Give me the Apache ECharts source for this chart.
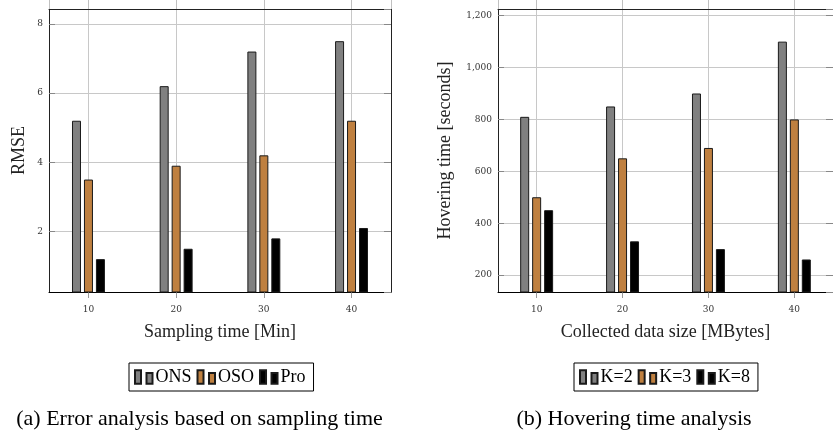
<!DOCTYPE html>
<html><head><meta charset="utf-8">
<script src="https://cdn.jsdelivr.net/npm/echarts@6/dist/echarts.min.js"></script>
<style>html,body{margin:0;padding:0;background:#fff}#c{width:833px;height:437px}</style>
</head><body><div id="c"></div>
<script>
// ---- data ----
const xTicks = [10, 20, 30, 40];
const leftNames = ['ONS', 'OSO', 'Pro'];
const ons = [5.2, 6.2, 7.2, 7.5];
const oso = [3.5, 3.9, 4.2, 5.2];
const pro = [1.2, 1.5, 1.8, 2.1];
const rightNames = ['K=2', 'K=3', 'K=8'];
const k2 = [810, 850, 900, 1100];
const k3 = [500, 650, 690, 800];
const k8 = [450, 330, 300, 260];
const leftXLabel = 'Sampling time [Min]';
const leftYLabel = 'RMSE';
const rightXLabel = 'Collected data size [MBytes]';
const rightYLabel = 'Hovering time [seconds]';
const captionA = '(a) Error analysis based on sampling time';
const captionB = '(b) Hovering time analysis';

// ---- styles ----
const colors = ['#808080', '#bf8040', '#000000'];
const serif = 'Liberation Serif';
const tickFont = { fontFamily: 'DejaVu Serif', fontSize: 9, color: '#333' };
const gridLine = { show: true, lineStyle: { color: '#c8c8c8', width: 1 } };
const iconPath = 'path://M0,0H6V13.5H0ZM11.5,2.7H17.5V13.5H11.5Z';

function bottomX(gi, name) {
  return {
    type: 'value', gridIndex: gi, position: 'bottom', min: 5.5, max: 44.5, splitNumber: 4,
    axisLine: { show: true, lineStyle: { color: '#000', width: 1 } },
    axisTick: { show: true, inside: false, length: 6, lineStyle: { color: '#999' } },
    axisLabel: Object.assign({ margin: 13, showMinLabel: false, showMaxLabel: false }, tickFont),
    splitLine: gridLine,
    name: name, nameLocation: 'middle', nameGap: 31,
    nameTextStyle: { fontFamily: serif, fontSize: 18, color: '#222' }
  };
}
function topX(gi) {
  return {
    type: 'value', gridIndex: gi, position: 'top', min: 5.5, max: 44.5, splitNumber: 4,
    axisLine: { show: true, lineStyle: { color: '#222', width: 1 } },
    axisTick: { show: true, inside: false, length: 9, lineStyle: { color: '#c0c0c0' } },
    axisLabel: { show: false }, splitLine: { show: false }
  };
}
function leftY(gi, min, max, split, name, gap, fmt) {
  return {
    type: 'value', gridIndex: gi, position: 'left', min: min, max: max, splitNumber: split,
    axisLine: { show: true, lineStyle: { color: '#222', width: 1 } },
    axisTick: { show: true, inside: true, length: 6, lineStyle: { color: '#888' } },
    axisLabel: Object.assign({ margin: 6, showMinLabel: false, showMaxLabel: false, formatter: fmt }, tickFont),
    splitLine: gridLine,
    name: name, nameLocation: 'middle', nameGap: gap,
    nameTextStyle: { fontFamily: serif, fontSize: 18, color: '#222' }
  };
}
function rightY(gi, min, max, split) {
  return {
    type: 'value', gridIndex: gi, position: 'right', min: min, max: max, splitNumber: split,
    axisLine: { show: true, lineStyle: { color: '#222', width: 1 } },
    axisTick: { show: true, inside: true, length: 7, lineStyle: { color: '#888' } },
    axisLabel: { show: false }, splitLine: { show: false }
  };
}
function bars(name, vals, ci, xi, yi) {
  return {
    type: 'bar', name: name, xAxisIndex: xi, yAxisIndex: yi,
    data: xTicks.map((x, i) => [x, vals[i]]),
    barWidth: 9, barGap: '33%',
    itemStyle: { color: colors[ci], borderColor: '#1a1a1a', borderWidth: 1 },
    emphasis: { disabled: true }
  };
}
function legend(names, left) {
  return {
    data: names, left: left, top: 363, orient: 'horizontal',
    icon: iconPath, itemWidth: 17.5, itemHeight: 13.5, itemGap: 5,
    borderColor: '#000', borderWidth: 1, padding: [5, 8, 5, 5],
    textStyle: { fontFamily: serif, fontSize: 18, color: '#000', padding: [0, 0, 0, -2] },
    selectedMode: false
  };
}

const chart = echarts.init(document.getElementById('c'), null, { renderer: 'canvas' });
chart.setOption({
  animation: false,
  backgroundColor: '#fff',
  grid: [
    { left: 49, top: 9, width: 342, height: 283, show: false },
    { left: 498, top: 9, width: 341, height: 283, show: false }
  ],
  xAxis: [bottomX(0, leftXLabel), topX(0), bottomX(1, rightXLabel), topX(1)],
  yAxis: [
    leftY(0, 0.25, 8.43, 4, leftYLabel, 21, v => String(v)),
    rightY(0, 0.25, 8.43, 4),
    leftY(1, 134.6, 1225.8, 5, rightYLabel, 44, v => v.toLocaleString('en-US')),
    rightY(1, 134.6, 1225.8, 5)
  ],
  legend: [legend(leftNames, 129), legend(rightNames, 574)],
  series: [
    bars(leftNames[0], ons, 0, 0, 0),
    bars(leftNames[1], oso, 1, 0, 0),
    bars(leftNames[2], pro, 2, 0, 0),
    bars(rightNames[0], k2, 0, 2, 2),
    bars(rightNames[1], k3, 1, 2, 2),
    bars(rightNames[2], k8, 2, 2, 2)
  ],
  graphic: [
    { type: 'text', x: 199.5, y: 419, style: { text: captionA, font: '22px "Liberation Serif"', fill: '#000', textAlign: 'center', textVerticalAlign: 'middle' } },
    { type: 'text', x: 634, y: 419, style: { text: captionB, font: '22px "Liberation Serif"', fill: '#000', textAlign: 'center', textVerticalAlign: 'middle' } }
  ]
});
</script>
</body></html>
